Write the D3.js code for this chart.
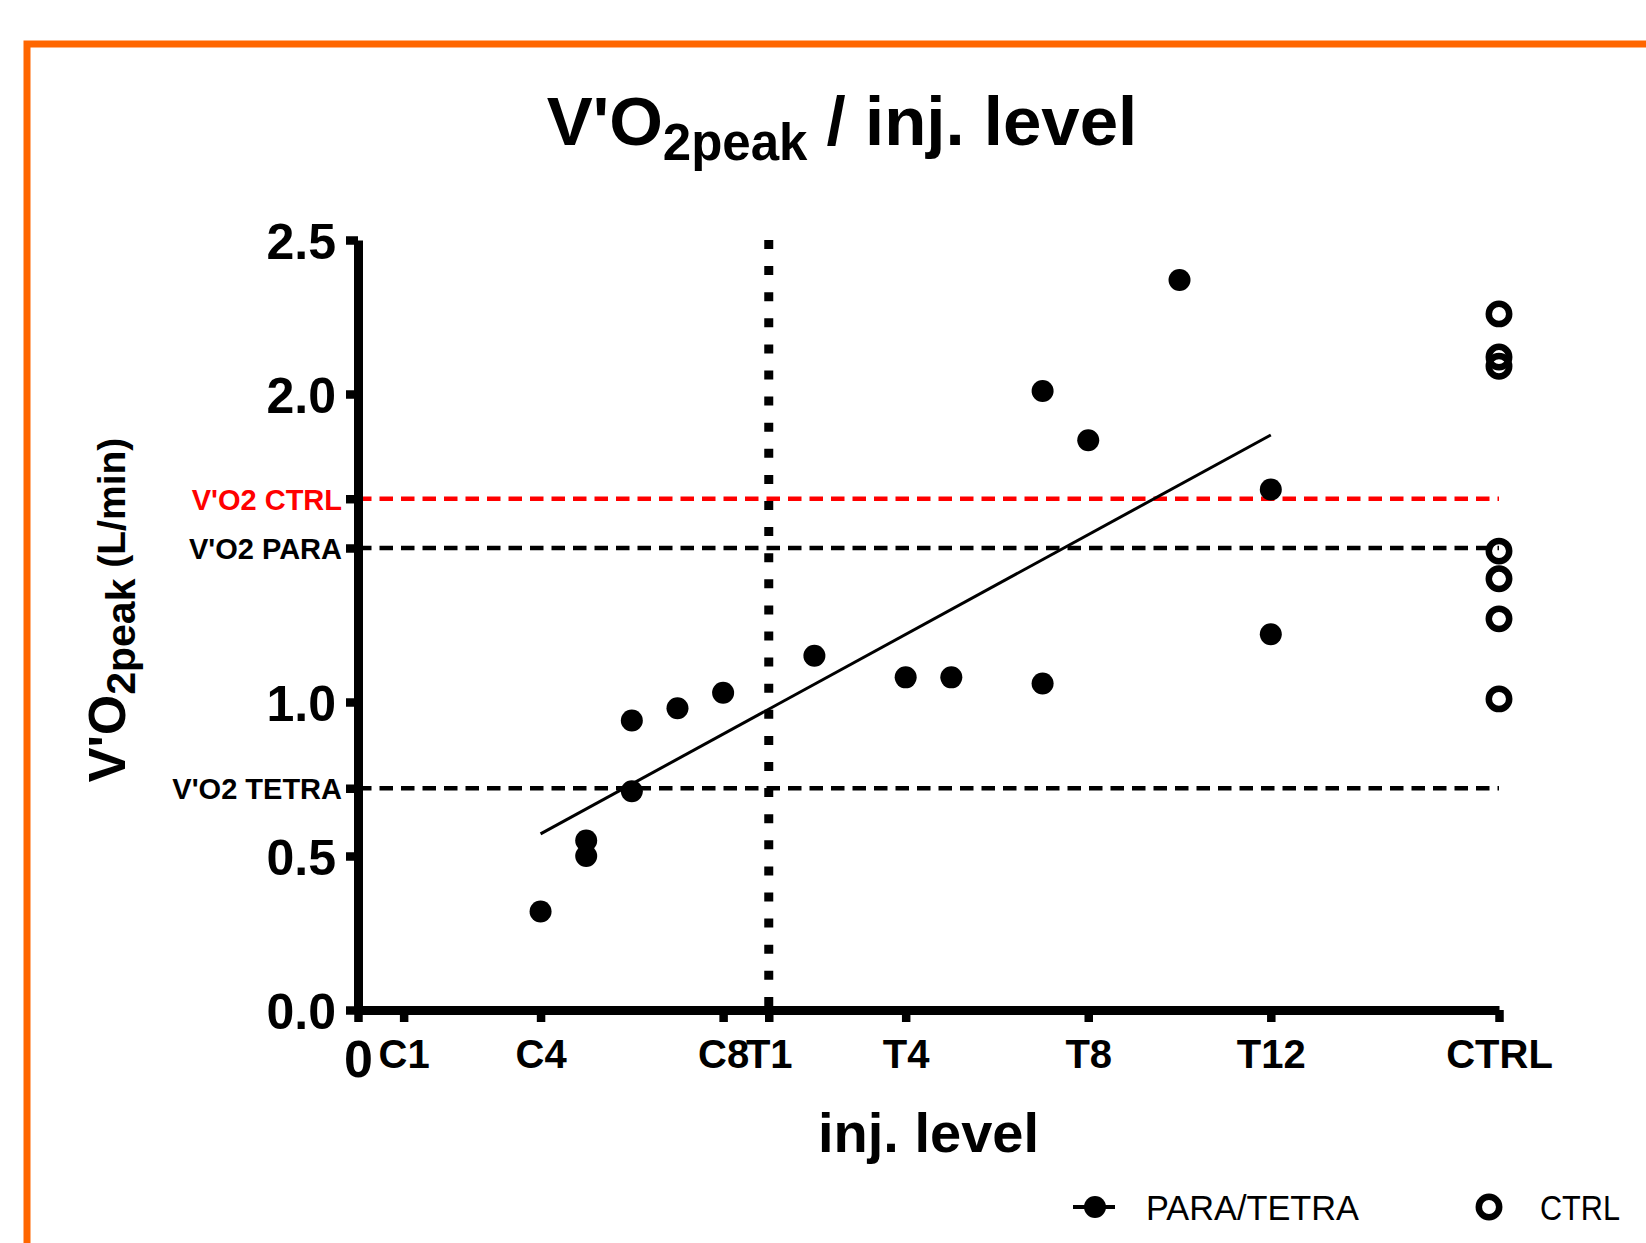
<!DOCTYPE html>
<html>
<head>
<meta charset="utf-8">
<script src="https://cdn.jsdelivr.net/npm/d3@7"></script>
<style>
    body { margin: 0; background: #fff; }
    svg { display: block; font-family: "Liberation Sans", Arial, Helvetica, sans-serif; }
</style>
</head>
<body>
<div id="chart"></div>
<script>

// x positions of the injury levels (C1 = 1 ... T12 = 20, controls at 25)
const tickPos = [0, 1, 4, 8, 9, 12, 16, 20, 25];
const tickLabels = ["0", "C1", "C4", "C8", "T1", "T4", "T8", "T12", "CTRL"];

// PARA/TETRA subjects: injury level and V'O2peak (L/min)
const paraX = [4, 5, 5, 6, 6, 7, 8, 10, 12, 13, 15, 15, 16, 18, 20, 20];
const paraY = [0.32, 0.55, 0.50, 0.94, 0.71, 0.98, 1.03, 1.15, 1.08, 1.08, 2.01, 1.06, 1.85, 2.37, 1.69, 1.22];

// controls, all plotted at the CTRL column
const ctrlX = 25;
const ctrlY = [2.26, 2.12, 2.09, 1.49, 1.40, 1.27, 1.01];

// reference (mean) lines
const refValues = [1.66, 1.5, 0.72];
const refLabels = ["V'O2 CTRL", "V'O2 PARA", "V'O2 TETRA"];
const refColours = ["#ff0000", "#000000", "#000000"];

const yTicks = [0, 0.5, 1, 2, 2.5];
const levelT1 = 9;

class VO2Chart {

    constructor(_element){
        this.element = _element;
        this.init();
    }

    init(){
        let dv = this;

        dv.margin = { top: 240, right: 147, bottom: 233, left: 358 };
        dv.width = 1646 - dv.margin.left - dv.margin.right;
        dv.height = 1243 - dv.margin.top - dv.margin.bottom;

        dv.svg = d3.select(dv.element)
            .append("svg")
            .attr("width", 1646)
            .attr("height", 1243);

        // orange frame
        dv.svg.append("rect")
            .attr("x", 27)
            .attr("y", 44)
            .attr("width", 1700)
            .attr("height", 1300)
            .attr("fill", "none")
            .attr("stroke", "#ff6600")
            .attr("stroke-width", 7);

        // title with subscript
        let title = dv.svg.append("text")
            .attr("x", 842)
            .attr("y", 145)
            .attr("text-anchor", "middle")
            .attr("font-weight", "bold")
            .attr("font-size", 69);
        title.append("tspan").text("V'O");
        title.append("tspan").attr("font-size", 51).attr("dy", 15).text("2peak");
        title.append("tspan").attr("dy", -15).text(" / inj. level");

        dv.g = dv.svg.append("g")
            .attr("transform", "translate(" + dv.margin.left + "," + dv.margin.top + ")");

        dv.x = d3.scaleLinear().domain([0, 25]).range([0, dv.width]);
        dv.y = d3.scaleLinear().domain([0, 2.5]).range([dv.height, 0]);

        dv.draw();
    }

    draw(){
        let dv = this;

        // horizontal reference lines
        dv.g.selectAll(".refLine")
            .data(refValues)
            .enter().append("line")
            .attr("class", "refLine")
            .attr("x1", dv.x(0))
            .attr("x2", dv.x(25))
            .attr("y1", d => dv.y(d))
            .attr("y2", d => dv.y(d))
            .attr("stroke", (d, i) => refColours[i])
            .attr("stroke-width", 4.5)
            .attr("stroke-dasharray", "13.5,8");

        // dotted separator between cervical and thoracic levels
        dv.g.append("line")
            .attr("x1", dv.x(levelT1))
            .attr("x2", dv.x(levelT1))
            .attr("y1", dv.y(2.5))
            .attr("y2", dv.y(0))
            .attr("stroke", "#000")
            .attr("stroke-width", 9)
            .attr("stroke-dasharray", "9,17.1");

        // linear regression of the PARA/TETRA points
        let mx = d3.mean(paraX), my = d3.mean(paraY);
        let sxy = d3.sum(paraX, (d, i) => (d - mx) * (paraY[i] - my));
        let sxx = d3.sum(paraX, d => (d - mx) * (d - mx));
        let slope = sxy / sxx;
        let intercept = my - slope * mx;
        let xExt = d3.extent(paraX);

        dv.g.append("line")
            .attr("x1", dv.x(xExt[0]))
            .attr("x2", dv.x(xExt[1]))
            .attr("y1", dv.y(intercept + slope * xExt[0]))
            .attr("y2", dv.y(intercept + slope * xExt[1]))
            .attr("stroke", "#000")
            .attr("stroke-width", 3);

        // axes
        let xAxisCall = d3.axisBottom(dv.x)
            .tickValues(tickPos)
            .tickFormat(d => tickLabels[tickPos.indexOf(d)])
            .tickSize(12)
            .tickSizeOuter(0);

        let xAxis = dv.g.append("g")
            .attr("transform", "translate(0," + dv.height + ")")
            .call(xAxisCall);

        let yAxisCall = d3.axisLeft(dv.y)
            .tickValues(yTicks.concat(refValues))
            .tickFormat(d => {
                let r = refValues.indexOf(d);
                return r >= 0 ? refLabels[r] : d3.format(".1f")(d);
            })
            .tickSize(12)
            .tickSizeOuter(0);

        let yAxis = dv.g.append("g")
            .call(yAxisCall);

        [xAxis, yAxis].forEach(ax => {
            ax.attr("font-family", null).attr("font-size", null);
            ax.select(".domain").attr("stroke", "#000").attr("stroke-width", 9);
            ax.selectAll(".tick line").attr("stroke", "#000").attr("stroke-width", 8.5);
            ax.selectAll(".tick text").attr("fill", "#000").attr("font-weight", "bold");
        });

        xAxis.selectAll(".tick text")
            .attr("dy", 0)
            .attr("y", d => d === 0 ? 67 : 58)
            .attr("font-size", d => d === 0 ? 52 : 40);

        yAxis.selectAll(".tick text")
            .each(function(d){
                let r = refValues.indexOf(d);
                let t = d3.select(this).attr("dy", "0.36em");
                if (r >= 0) {
                    t.attr("x", -16).attr("font-size", 29).attr("fill", refColours[r]);
                } else {
                    t.attr("x", -22).attr("font-size", 50);
                }
            });

        // axis titles
        dv.svg.append("text")
            .attr("x", dv.margin.left + dv.width / 2)
            .attr("y", 1152)
            .attr("text-anchor", "middle")
            .attr("font-weight", "bold")
            .attr("font-size", 56)
            .text("inj. level");

        let yTitle = dv.svg.append("text")
            .attr("transform", "translate(125,610) rotate(-90)")
            .attr("text-anchor", "middle")
            .attr("font-weight", "bold")
            .attr("font-size", 52);
        yTitle.append("tspan").text("V'O");
        yTitle.append("tspan").attr("font-size", 41).attr("dy", 10).text("2peak");
        yTitle.append("tspan").attr("font-size", 39).attr("dy", -10).text(" (L/min)");

        // points
        dv.g.selectAll(".para")
            .data(paraX)
            .enter().append("circle")
            .attr("class", "para")
            .attr("cx", d => dv.x(d))
            .attr("cy", (d, i) => dv.y(paraY[i]))
            .attr("r", 11)
            .attr("fill", "#000");

        dv.g.selectAll(".ctrl")
            .data(ctrlY)
            .enter().append("circle")
            .attr("class", "ctrl")
            .attr("cx", dv.x(ctrlX))
            .attr("cy", d => dv.y(d))
            .attr("r", 10.2)
            .attr("fill", "none")
            .attr("stroke", "#000")
            .attr("stroke-width", 6.5);

        dv.addLegend();
    }

    addLegend(){
        let dv = this;

        let legend = dv.svg.append("g")
            .attr("transform", "translate(0,1207)");

        legend.append("line")
            .attr("x1", 1073).attr("x2", 1115)
            .attr("stroke", "#000").attr("stroke-width", 4);
        legend.append("circle")
            .attr("cx", 1095).attr("r", 11).attr("fill", "#000");
        legend.append("text")
            .attr("x", 1146).attr("y", 13)
            .attr("font-size", 35)
            .attr("textLength", 213)
            .attr("lengthAdjust", "spacingAndGlyphs")
            .text("PARA/TETRA");

        legend.append("circle")
            .attr("cx", 1489).attr("r", 10.2)
            .attr("fill", "none").attr("stroke", "#000").attr("stroke-width", 6.5);
        legend.append("text")
            .attr("x", 1540).attr("y", 13)
            .attr("font-size", 35)
            .attr("textLength", 80)
            .attr("lengthAdjust", "spacingAndGlyphs")
            .text("CTRL");
    }
}

new VO2Chart("#chart");
</script>
</body>
</html>
